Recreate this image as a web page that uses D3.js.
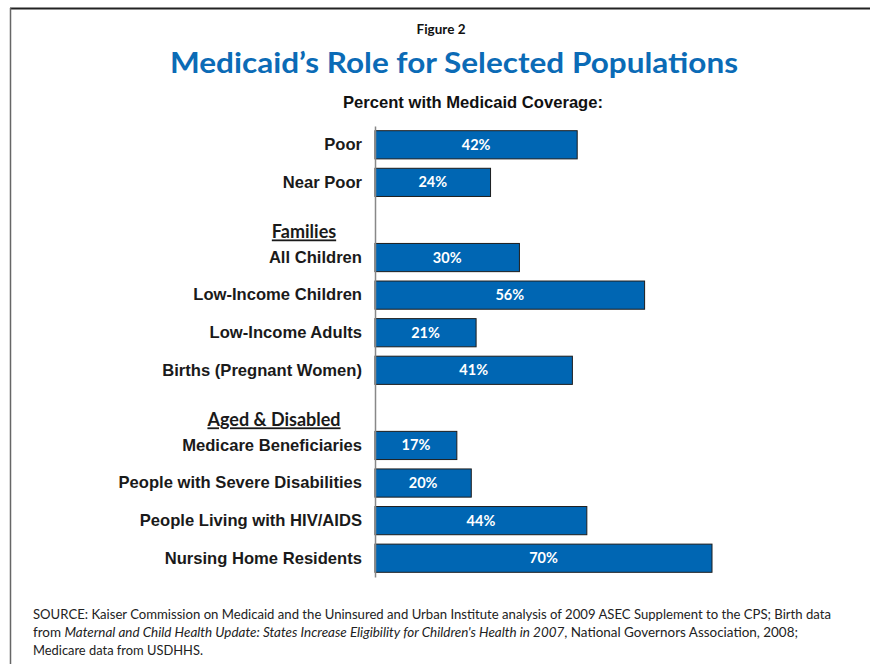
<!DOCTYPE html>
<html><head><meta charset="utf-8">
<script src="https://cdn.jsdelivr.net/npm/d3@7/dist/d3.min.js"></script>
<style>
html,body{margin:0;padding:0;background:#fff;}
svg{display:block;}
</style></head>
<body>
<svg id="chart" width="870" height="664"></svg>
<script>
const slots = ["Poor","Near Poor","gap1","All Children","Low-Income Children","Low-Income Adults","Births (Pregnant Women)","gap2","Medicare Beneficiaries","People with Severe Disabilities","People Living with HIV/AIDS","Nursing Home Residents"];
const categories = ["Poor","Near Poor","All Children","Low-Income Children","Low-Income Adults","Births (Pregnant Women)","Medicare Beneficiaries","People with Severe Disabilities","People Living with HIV/AIDS","Nursing Home Residents"];
const values = [42,24,30,56,21,41,17,20,44,70];
const groupHeaders = [{label:"Families", before:"All Children"},{label:"Aged & Disabled", before:"Medicare Beneficiaries"}];
const figureLabel = "Figure 2";
const title = "Medicaid\u2019s Role for Selected Populations";
const subtitle = "Percent with Medicaid Coverage:";

const svg = d3.select("#chart");
const calibri = "Lato, 'Open Sans', sans-serif";
const arial = "'Liberation Sans', Arial, sans-serif";
const blue = "#0066b3";

// frame
svg.append("line").attr("x1",10).attr("x2",870).attr("y1",8.5).attr("y2",8.5).attr("stroke","#222").attr("stroke-width",2);
svg.append("line").attr("x1",10.5).attr("x2",10.5).attr("y1",8).attr("y2",664).attr("stroke","#666").attr("stroke-width",1.5);

svg.append("text").attr("x",441).attr("y",34).attr("text-anchor","middle")
  .attr("font-family",calibri).attr("font-weight","bold").attr("font-size",13.5).attr("fill","#111").text(figureLabel);
svg.append("text").attr("x",454).attr("y",73).attr("text-anchor","middle")
  .attr("font-family",calibri).attr("font-weight","bold").attr("font-size",29).attr("fill","#0b6bb6")
  .attr("textLength",568).attr("lengthAdjust","spacingAndGlyphs").text(title);
svg.append("text").attr("x",473).attr("y",108).attr("text-anchor","middle")
  .attr("font-family",arial).attr("font-weight","bold").attr("font-size",16.5).attr("fill","#111")
  .attr("textLength",260).attr("lengthAdjust","spacingAndGlyphs").text(subtitle);

const x = d3.scaleLinear().domain([0,70]).range([375,712]);
const y = d3.scaleBand().domain(slots).range([126,577]).paddingInner(0.25).paddingOuter(0.125);

const data = categories.map((c,i)=>({c, v:values[i]}));

svg.selectAll("rect.bar").data(data).join("rect").attr("class","bar")
  .attr("x",x(0)).attr("y",d=>y(d.c)).attr("width",d=>x(d.v)-x(0)).attr("height",y.bandwidth())
  .attr("fill",blue).attr("stroke","#1d1d1d").attr("stroke-width",1);

svg.selectAll("text.val").data(data).join("text").attr("class","val")
  .attr("x",d=>(x(0)+x(d.v))/2).attr("y",d=>y(d.c)+y.bandwidth()/2+5).attr("text-anchor","middle")
  .attr("font-family",calibri).attr("font-weight","bold").attr("font-size",14.5).attr("fill","#fff")
  .text(d=>d.v+"%");

// axis (category labels)
const axis = d3.axisLeft(y).tickSize(0).tickPadding(13).tickFormat(d=>d.startsWith("gap")?"":d);
const ag = svg.append("g").attr("transform",`translate(${x(0)},0)`).call(axis);
ag.select(".domain").attr("stroke","#888").attr("stroke-width",1.5);
ag.selectAll(".tick text").attr("font-family",arial).attr("font-weight","bold").attr("font-size",16.6).attr("fill","#1a1a1a");

// group headers
groupHeaders.forEach(h=>{
  svg.append("text").attr("y",y(h.before)-5)
    .attr("font-family",calibri).attr("font-weight","bold").attr("font-size",18)
    .attr("fill","#1a1a1a").attr("text-decoration","underline")
    .attr("x", h.label==="Families" ? 304 : 274).attr("text-anchor","middle").text(h.label);
});

// source
const fs = 13;
svg.append("text").attr("font-family",calibri).attr("font-size",fs).attr("fill","#222").attr("x",33).attr("y",619)
  .attr("textLength",798).attr("lengthAdjust","spacingAndGlyphs")
  .text("SOURCE: Kaiser Commission on Medicaid and the Uninsured and Urban Institute analysis of 2009 ASEC Supplement to the CPS; Birth data");
const t2 = svg.append("text").attr("font-family",calibri).attr("font-size",fs).attr("fill","#222").attr("x",33).attr("y",637)
  .attr("textLength",765).attr("lengthAdjust","spacingAndGlyphs");
t2.append("tspan").text("from ");
t2.append("tspan").attr("font-style","italic").text("Maternal and Child Health Update: States Increase Eligibility for Children's Health in 2007");
t2.append("tspan").text(", National Governors Association, 2008;");
svg.append("text").attr("font-family",calibri).attr("font-size",fs).attr("fill","#222").attr("x",33).attr("y",655)
  .attr("textLength",170).attr("lengthAdjust","spacingAndGlyphs").text("Medicare data from USDHHS.");
</script>
</body></html>
